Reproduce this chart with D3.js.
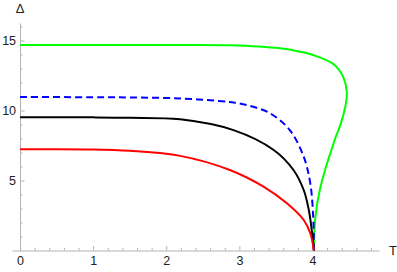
<!DOCTYPE html>
<html>
<head>
<meta charset="utf-8">
<script src="https://cdn.jsdelivr.net/npm/d3@7"></script>
<style>
  body { margin: 0; background: #fff; }
  svg { display: block; font-family: "Liberation Sans", Arial, sans-serif; }
</style>
</head>
<body>
<div id="chart"></div>
<script>
// curves, [T, Δ]
const redCurve = [[0, 7.23], [1.0, 7.22], [1.5, 7.12], [2.19, 6.76], [2.87, 5.75], [3.33, 4.56], [3.65, 3.37], [3.88, 2.18], [3.97, 1.23], [4.02, 0]]
const blackCurve = [[0, 9.52], [1.0, 9.51], [1.5, 9.48], [2.19, 9.37], [2.92, 8.6], [3.47, 7.18], [3.74, 5.75], [3.88, 4.32], [3.95, 2.89], [3.99, 1.46], [4.02, 0]]
const blueCurve = [[0, 10.96], [1.0, 10.95], [1.5, 10.93], [2.19, 10.86], [2.87, 10.6], [3.1, 10.39], [3.42, 9.8], [3.69, 8.6], [3.88, 6.7], [3.97, 4.8], [4.01, 2.4], [4.02, 0]]
const greenCurve = [[0, 14.68], [1.0, 14.68], [2.0, 14.68], [2.87, 14.66], [3.56, 14.44], [3.83, 14.2], [4.01, 13.96], [4.29, 13.3], [4.42, 12.4], [4.47, 11.3], [4.45, 10.3], [4.39, 9.1], [4.31, 8.0], [4.26, 7.18], [4.2, 6.23], [4.1, 4.32], [4.04, 2.41], [4.02, 0.3]]

const xTicks = [0, 1, 2, 3, 4]
const yTicks = [5, 10, 15]

const W = 397, H = 272
const svg = d3.select("#chart").append("svg").attr("width", W).attr("height", H)

// 比例尺
const x = d3.scaleLinear().domain([-0.11, 4.91]).range([12, 379])
const y = d3.scaleLinear().domain([0, 16.25]).range([250.5, 23])

const axisColor = "#b3b3b3"

// 次刻度
const xMinor = d3.range(0, 25).map(i => i * 0.2).filter(v => xTicks.indexOf(Math.round(v * 10) / 10) < 0)
const yMinor = d3.range(1, 17).filter(v => yTicks.indexOf(v) < 0)

svg.append("g")
  .attr("transform", `translate(0,${y(0)})`)
  .call(d3.axisBottom(x).tickValues(xMinor).tickFormat("").tickSize(-2.5).tickSizeOuter(0))
  .call(g => g.select(".domain").remove())
  .call(g => g.selectAll("line").attr("stroke", axisColor))

svg.append("g")
  .attr("transform", `translate(${x(0)},0)`)
  .call(d3.axisLeft(y).tickValues(yMinor).tickFormat("").tickSize(-2.5).tickSizeOuter(0))
  .call(g => g.select(".domain").remove())
  .call(g => g.selectAll("line").attr("stroke", axisColor))

// 主坐标轴
const xAxis = svg.append("g")
  .attr("transform", `translate(0,${y(0)})`)
  .call(d3.axisBottom(x).tickValues(xTicks).tickFormat(d3.format("d")).tickSize(-4.5).tickSizeOuter(0).tickPadding(6))
xAxis.select(".domain").attr("stroke", axisColor)
xAxis.selectAll(".tick line").attr("stroke", axisColor)
xAxis.selectAll(".tick text").attr("fill", "#222").attr("font-size", 12.5)

const yAxis = svg.append("g")
  .attr("transform", `translate(${x(0)},0)`)
  .call(d3.axisLeft(y).tickValues(yTicks).tickFormat(d3.format("d")).tickSize(-4.5).tickSizeOuter(0).tickPadding(4))
yAxis.select(".domain").attr("stroke", axisColor)
yAxis.selectAll(".tick line").attr("stroke", axisColor)
yAxis.selectAll(".tick text").attr("fill", "#222").attr("font-size", 12.5)

// 轴标签
svg.append("text").text("Δ")
  .attr("x", x(0)).attr("y", 13)
  .attr("text-anchor", "middle").attr("font-size", 13).attr("fill", "#222")
svg.append("text").text("T")
  .attr("x", 393).attr("y", y(0)).attr("dy", "0.35em")
  .attr("text-anchor", "middle").attr("font-size", 13).attr("fill", "#222")

// 曲线
const line = d3.line()
  .x(d => x(d[0]))
  .y(d => y(d[1]))
  .curve(d3.curveCatmullRom.alpha(0.5))

const series = [
  { data: greenCurve, color: "#00ff00", dash: null },
  { data: blueCurve, color: "#0000ff", dash: "7,4" },
  { data: blackCurve, color: "#000000", dash: null },
  { data: redCurve, color: "#ff0000", dash: null },
]

svg.selectAll(".curve")
  .data(series)
  .enter()
  .append("path")
  .attr("class", "curve")
  .attr("d", d => line(d.data))
  .attr("fill", "none")
  .attr("stroke", d => d.color)
  .attr("stroke-width", 2)
  .attr("stroke-dasharray", d => d.dash)
</script>
</body>
</html>
